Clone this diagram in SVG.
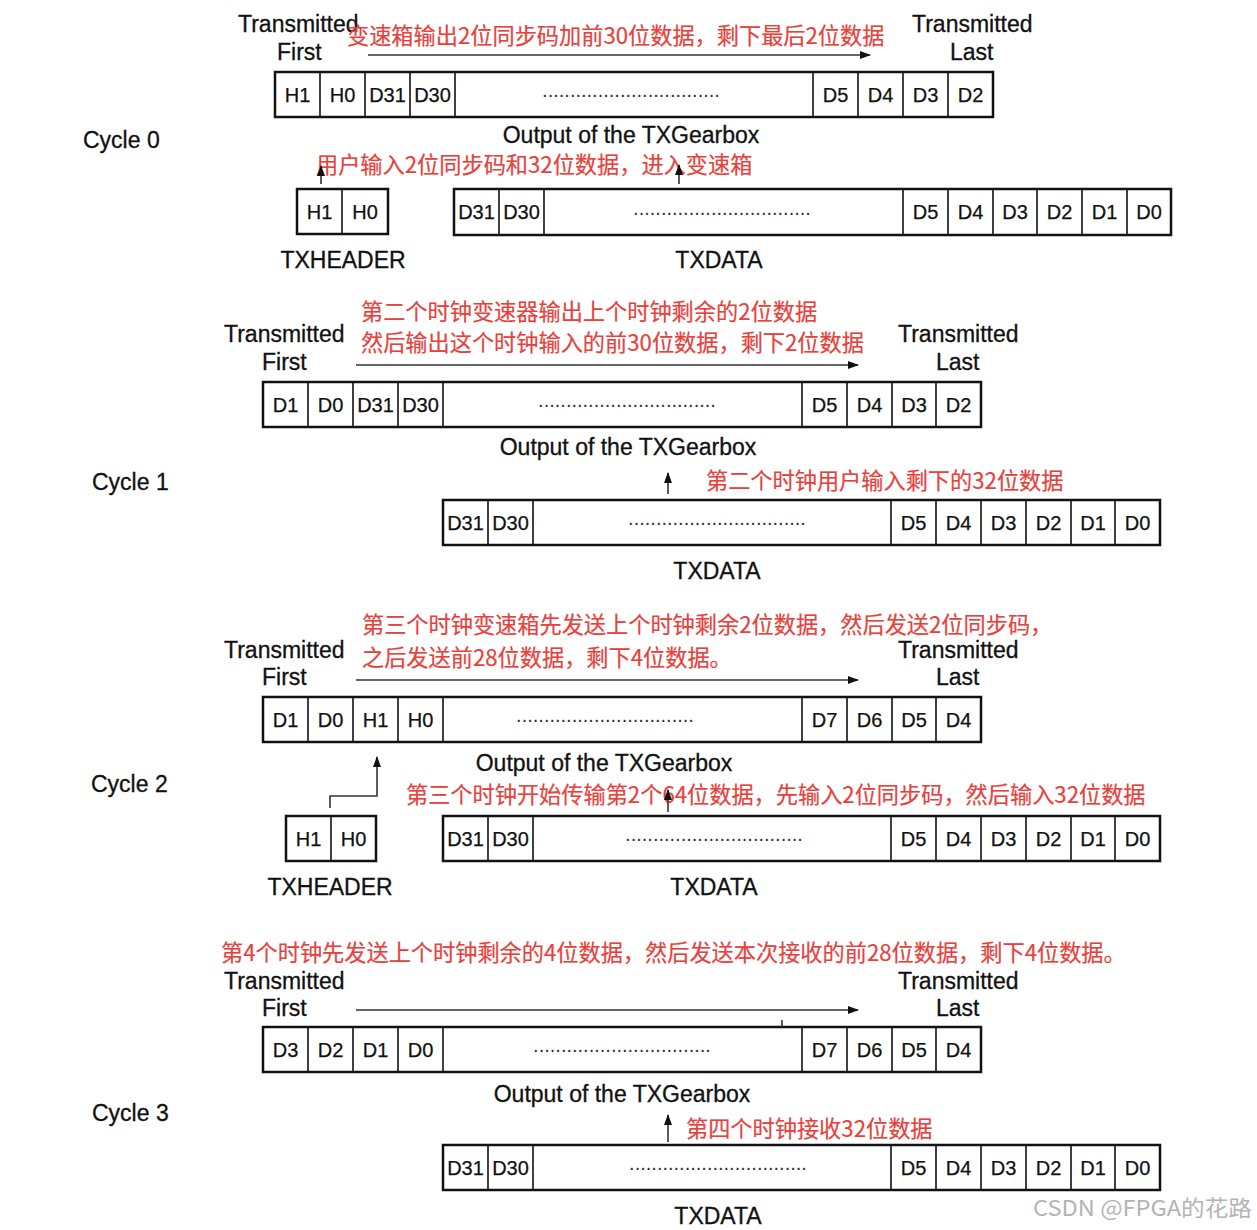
<svg xmlns="http://www.w3.org/2000/svg" width="1257" height="1230" viewBox="0 0 1257 1230">
<defs>
<marker id="ah" markerUnits="userSpaceOnUse" markerWidth="11" markerHeight="8" refX="10" refY="4" orient="auto">
<path d="M0,0 L11,4 L0,8 z" fill="#111"/>
</marker>
<style>
.lbl{font-family:"Liberation Sans",Arial,sans-serif;font-size:23px;fill:#111;stroke:#111;stroke-width:0.3}
.cell{font-family:"Liberation Sans",Arial,sans-serif;font-size:20px;fill:#111;stroke:#111;stroke-width:0.25;text-anchor:middle}
.dots{font-family:"Liberation Sans",Arial,sans-serif;font-size:20px;fill:#333;text-anchor:middle}
.mid{text-anchor:middle}
.red{font-family:"Noto Sans CJK SC","Liberation Sans",sans-serif;font-size:22.2px;fill:#e8413c;stroke:#e8413c;stroke-width:0.2}
.box{fill:#fff;stroke:#111;stroke-width:2.5}
.div{stroke:#111;stroke-width:1.6}
.arr{stroke:#333;stroke-width:1.6;fill:none}
.wm{font-family:"Noto Sans CJK SC","Liberation Sans",sans-serif;font-size:22px;fill:#b4b4b4}
</style>
</defs>
<rect width="1257" height="1230" fill="#fff"/>

<!-- Cycle 0 -->
<g id="cycle0-labels">
<text class="lbl" x="238" y="32">Transmitted</text>
<text class="lbl" x="277" y="60">First</text>
<text class="lbl" x="912" y="32">Transmitted</text>
<text class="lbl" x="950" y="60">Last</text>
<text class="red" x="347" y="44">变速箱输出2位同步码加前30位数据，剩下最后2位数据</text>
<text class="lbl" x="83" y="148">Cycle 0</text>
<text class="lbl mid" x="631" y="143">Output of the TXGearbox</text>
<text class="red" x="316" y="173">用户输入2位同步码和32位数据，进入变速箱</text>
<text class="lbl mid" x="343" y="268">TXHEADER</text>
<text class="lbl mid" x="719" y="268">TXDATA</text>
</g>
<g id="cycle0-output">
<rect class="box" x="275" y="72" width="718" height="45"/>
<path class="div" d="M320,72V117M365,72V117M410,72V117M455,72V117M813,72V117M858,72V117M903,72V117M948,72V117"/>
<text class="cell" x="297.5" y="101.5">H1</text>
<text class="cell" x="342.5" y="101.5">H0</text>
<text class="cell" x="387.5" y="101.5">D31</text>
<text class="cell" x="432.5" y="101.5">D30</text>
<text class="dots" x="631" y="97">................................</text>
<text class="cell" x="835.5" y="101.5">D5</text>
<text class="cell" x="880.5" y="101.5">D4</text>
<text class="cell" x="925.5" y="101.5">D3</text>
<text class="cell" x="970.5" y="101.5">D2</text>
</g>
<g id="cycle0-txheader">
<rect class="box" x="297" y="189" width="91" height="45"/>
<path class="div" d="M342,189V234"/>
<text class="cell" x="319.5" y="219">H1</text>
<text class="cell" x="365" y="219">H0</text>
</g>
<g id="cycle0-txdata">
<rect class="box" x="454" y="189" width="717" height="46"/>
<path class="div" d="M499,189V235M544,189V235M903,189V235M948,189V235M993,189V235M1037,189V235M1082,189V235M1127,189V235"/>
<text class="cell" x="476.5" y="219">D31</text>
<text class="cell" x="521.5" y="219">D30</text>
<text class="dots" x="722" y="215">................................</text>
<text class="cell" x="925.5" y="219">D5</text>
<text class="cell" x="970.5" y="219">D4</text>
<text class="cell" x="1015" y="219">D3</text>
<text class="cell" x="1059.5" y="219">D2</text>
<text class="cell" x="1104.5" y="219">D1</text>
<text class="cell" x="1149" y="219">D0</text>
</g>

<!-- Cycle 1 -->
<g id="cycle1-labels">
<text class="red" x="361" y="320">第二个时钟变速器输出上个时钟剩余的2位数据</text>
<text class="red" x="361" y="351">然后输出这个时钟输入的前30位数据，剩下2位数据</text>
<text class="lbl" x="224" y="342">Transmitted</text>
<text class="lbl" x="262" y="370">First</text>
<text class="lbl" x="898" y="342">Transmitted</text>
<text class="lbl" x="936" y="370">Last</text>
<text class="lbl mid" x="628" y="455">Output of the TXGearbox</text>
<text class="lbl" x="92" y="490">Cycle 1</text>
<text class="red" x="706" y="489">第二个时钟用户输入剩下的32位数据</text>
<text class="lbl mid" x="717" y="579">TXDATA</text>
</g>
<g id="cycle1-output">
<rect class="box" x="263" y="382" width="718" height="45"/>
<path class="div" d="M308,382V427M353,382V427M398,382V427M443,382V427M802,382V427M847,382V427M892,382V427M936,382V427"/>
<text class="cell" x="285.5" y="411.5">D1</text>
<text class="cell" x="330.5" y="411.5">D0</text>
<text class="cell" x="375.5" y="411.5">D31</text>
<text class="cell" x="420.5" y="411.5">D30</text>
<text class="dots" x="627" y="407">................................</text>
<text class="cell" x="824.5" y="411.5">D5</text>
<text class="cell" x="869.5" y="411.5">D4</text>
<text class="cell" x="914" y="411.5">D3</text>
<text class="cell" x="958.5" y="411.5">D2</text>
</g>
<g id="cycle1-txdata">
<rect class="box" x="443" y="500" width="717" height="45"/>
<path class="div" d="M488,500V545M533,500V545M891,500V545M936,500V545M981,500V545M1026,500V545M1071,500V545M1115,500V545"/>
<text class="cell" x="465.5" y="529.5">D31</text>
<text class="cell" x="510.5" y="529.5">D30</text>
<text class="dots" x="717" y="525">................................</text>
<text class="cell" x="913.5" y="529.5">D5</text>
<text class="cell" x="958.5" y="529.5">D4</text>
<text class="cell" x="1003.5" y="529.5">D3</text>
<text class="cell" x="1048.5" y="529.5">D2</text>
<text class="cell" x="1093" y="529.5">D1</text>
<text class="cell" x="1137.5" y="529.5">D0</text>
</g>

<!-- Cycle 2 -->
<g id="cycle2-labels">
<text class="red" x="362" y="633">第三个时钟变速箱先发送上个时钟剩余2位数据，然后发送2位同步码，</text>
<text class="red" x="362" y="666">之后发送前28位数据，剩下4位数据。</text>
<text class="lbl" x="224" y="658">Transmitted</text>
<text class="lbl" x="262" y="685">First</text>
<text class="lbl" x="898" y="658">Transmitted</text>
<text class="lbl" x="936" y="685">Last</text>
<text class="lbl mid" x="604" y="771">Output of the TXGearbox</text>
<text class="lbl" x="91" y="792">Cycle 2</text>
<text class="red" x="406" y="803">第三个时钟开始传输第2个64位数据，先输入2位同步码，然后输入32位数据</text>
<text class="lbl mid" x="330" y="895">TXHEADER</text>
<text class="lbl mid" x="714" y="895">TXDATA</text>
</g>
<g id="cycle2-output">
<rect class="box" x="263" y="697" width="718" height="45"/>
<path class="div" d="M308,697V742M353,697V742M398,697V742M443,697V742M802,697V742M847,697V742M892,697V742M936,697V742"/>
<text class="cell" x="285.5" y="726.5">D1</text>
<text class="cell" x="330.5" y="726.5">D0</text>
<text class="cell" x="375.5" y="726.5">H1</text>
<text class="cell" x="420.5" y="726.5">H0</text>
<text class="dots" x="605" y="722">................................</text>
<text class="cell" x="824.5" y="726.5">D7</text>
<text class="cell" x="869.5" y="726.5">D6</text>
<text class="cell" x="914" y="726.5">D5</text>
<text class="cell" x="958.5" y="726.5">D4</text>
</g>
<g id="cycle2-txheader">
<rect class="box" x="286" y="816" width="90" height="45"/>
<path class="div" d="M331,816V861"/>
<text class="cell" x="308.5" y="845.5">H1</text>
<text class="cell" x="353.5" y="845.5">H0</text>
</g>
<g id="cycle2-txdata">
<rect class="box" x="443" y="816" width="717" height="45"/>
<path class="div" d="M488,816V861M533,816V861M891,816V861M936,816V861M981,816V861M1026,816V861M1071,816V861M1115,816V861"/>
<text class="cell" x="465.5" y="845.5">D31</text>
<text class="cell" x="510.5" y="845.5">D30</text>
<text class="dots" x="714" y="841">................................</text>
<text class="cell" x="913.5" y="845.5">D5</text>
<text class="cell" x="958.5" y="845.5">D4</text>
<text class="cell" x="1003.5" y="845.5">D3</text>
<text class="cell" x="1048.5" y="845.5">D2</text>
<text class="cell" x="1093" y="845.5">D1</text>
<text class="cell" x="1137.5" y="845.5">D0</text>
</g>

<!-- Cycle 3 -->
<g id="cycle3-labels">
<text class="red" x="221" y="961">第4个时钟先发送上个时钟剩余的4位数据，然后发送本次接收的前28位数据，剩下4位数据。</text>
<text class="lbl" x="224" y="989">Transmitted</text>
<text class="lbl" x="262" y="1016">First</text>
<text class="lbl" x="898" y="989">Transmitted</text>
<text class="lbl" x="936" y="1016">Last</text>
<text class="lbl mid" x="622" y="1102">Output of the TXGearbox</text>
<text class="lbl" x="92" y="1121">Cycle 3</text>
<text class="red" x="686" y="1137">第四个时钟接收32位数据</text>
<text class="lbl mid" x="718" y="1224">TXDATA</text>
</g>
<g id="cycle3-output">
<rect class="box" x="263" y="1027" width="718" height="45"/>
<path class="div" d="M308,1027V1072M353,1027V1072M398,1027V1072M443,1027V1072M802,1027V1072M847,1027V1072M892,1027V1072M936,1027V1072"/>
<text class="cell" x="285.5" y="1056.5">D3</text>
<text class="cell" x="330.5" y="1056.5">D2</text>
<text class="cell" x="375.5" y="1056.5">D1</text>
<text class="cell" x="420.5" y="1056.5">D0</text>
<text class="dots" x="622" y="1052">................................</text>
<text class="cell" x="824.5" y="1056.5">D7</text>
<text class="cell" x="869.5" y="1056.5">D6</text>
<text class="cell" x="914" y="1056.5">D5</text>
<text class="cell" x="958.5" y="1056.5">D4</text>
</g>
<g id="cycle3-txdata">
<rect class="box" x="443" y="1145" width="717" height="45"/>
<path class="div" d="M488,1145V1190M533,1145V1190M891,1145V1190M936,1145V1190M981,1145V1190M1026,1145V1190M1071,1145V1190M1115,1145V1190"/>
<text class="cell" x="465.5" y="1174.5">D31</text>
<text class="cell" x="510.5" y="1174.5">D30</text>
<text class="dots" x="718" y="1170">................................</text>
<text class="cell" x="913.5" y="1174.5">D5</text>
<text class="cell" x="958.5" y="1174.5">D4</text>
<text class="cell" x="1003.5" y="1174.5">D3</text>
<text class="cell" x="1048.5" y="1174.5">D2</text>
<text class="cell" x="1093" y="1174.5">D1</text>
<text class="cell" x="1137.5" y="1174.5">D0</text>
</g>

<g id="connectors">
<path class="arr" d="M368,55H870" marker-end="url(#ah)"/>
<path class="arr" d="M321,184V166" marker-end="url(#ah)"/>
<path class="arr" d="M679,184V165" marker-end="url(#ah)"/>
<path class="arr" d="M356,365H858" marker-end="url(#ah)"/>
<path class="arr" d="M668,494V473" marker-end="url(#ah)"/>
<path class="arr" d="M356,680H858" marker-end="url(#ah)"/>
<path class="arr" d="M330,808V796H377V757" marker-end="url(#ah)"/>
<path class="arr" d="M668,812V790" marker-end="url(#ah)"/>
<path class="arr" d="M356,1010H858" marker-end="url(#ah)"/>
<path class="arr" d="M782,1020V1027" stroke-width="1"/>
<path class="arr" d="M668,1142V1115" marker-end="url(#ah)"/>
</g>

<text class="wm" x="1033" y="1216" textLength="219" lengthAdjust="spacingAndGlyphs">CSDN @FPGA的花路</text>
</svg>
